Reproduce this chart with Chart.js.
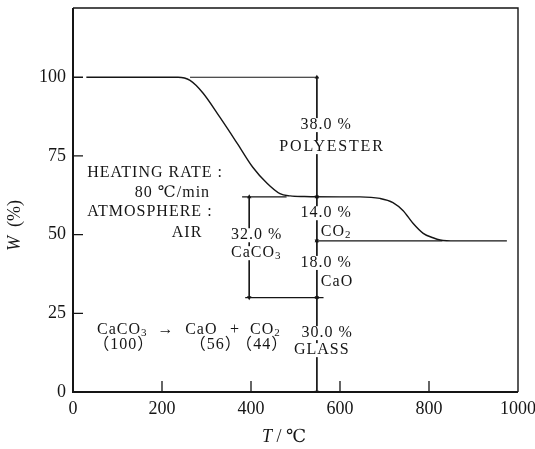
<!DOCTYPE html>
<html>
<head>
<meta charset="utf-8">
<script src="https://cdn.jsdelivr.net/npm/chart.js@4.4.1/dist/chart.umd.min.js"></script>
<style>
  html, body { margin: 0; padding: 0; background: #fff; }
  #wrap { width: 535px; height: 449px; }
</style>
</head>
<body>
<div id="wrap"><canvas id="tga"></canvas></div>
<script>
// TG curve of a glass-filled polyester containing CaCO3 (heating in air)
const tempC     = [30, 236, 263, 292, 330, 369, 404, 436, 465, 488, 520, 600, 645, 690, 719, 742, 764, 787, 809, 825, 860, 975];
const weightPct = [100, 100, 99, 95, 87.3, 79, 71.4, 66.3, 63.0, 62.3, 62.1, 62, 62, 61.5, 60.2, 57.6, 53.6, 50.4, 49.0, 48.3, 48, 48];

const xTicks = [0, 200, 400, 600, 800, 1000];
const yTicks = [0, 25, 50, 75, 100];

// weight steps (%)
const polyesterLoss = 38.0;
const co2Loss = 14.0;
const caoLeft = 18.0;
const glassLeft = 30.0;
const reactionMass = [100, 56, 44];

const afterPolyester = 100 - polyesterLoss;      // 62
const afterCO2 = afterPolyester - co2Loss;       // 48
const glassLevel = afterCO2 - caoLeft;           // 30
const caco3Share = afterPolyester - glassLevel;  // 32

// where the step markers sit on the temperature axis
const stepX = 548;
const caco3X = 396;
const guideSpans = [
  { y: 100, from: 263, to: 552 },
  { y: afterPolyester, from: 380, to: 480 },
  { y: glassLevel, from: 387, to: 563 },
  { y: afterCO2, from: 552, to: 830 }
];
const arrows = [
  { x: stepX, top: 100, bottom: afterPolyester },
  { x: stepX, top: afterPolyester, bottom: afterCO2 },
  { x: stepX, top: afterCO2, bottom: glassLevel },
  { x: stepX, top: glassLevel, bottom: glassLevel - glassLeft },
  { x: caco3X, top: afterPolyester, bottom: glassLevel }
];

const pct = v => v.toFixed(1) + ' %';
const notes = [
  { text: 'HEATING RATE :', x: 32, y: 69.5, align: 'left' },
  { text: '80 ℃/min', x: 139, y: 63.2, align: 'left' },
  { text: 'ATMOSPHERE :', x: 32, y: 57.1, align: 'left' },
  { text: 'AIR', x: 222, y: 50.5, align: 'left' },
  { text: pct(polyesterLoss), x: 569, y: 84.8, align: 'center', knock: true },
  { text: 'POLYESTER', x: 582, y: 77.8, align: 'center', knock: true, spacing: 1.8 },
  { text: pct(co2Loss), x: 569, y: 56.8, align: 'center', knock: true },
  { text: 'CO_2', x: 557, y: 50.8, align: 'left' },
  { text: pct(caco3Share), x: 413, y: 49.8, align: 'center', knock: true },
  { text: 'CaCO_3', x: 412, y: 44.1, align: 'center', knock: true },
  { text: pct(caoLeft), x: 569, y: 41.0, align: 'center', knock: true },
  { text: 'CaO', x: 557, y: 34.9, align: 'left' },
  { text: pct(glassLeft), x: 571, y: 18.7, align: 'center', knock: true },
  { text: 'GLASS', x: 559, y: 13.3, align: 'center', knock: true },
  { text: 'CaCO_3', x: 54, y: 19.7, align: 'left' },
  { text: '→', x: 209, y: 19.9, align: 'center' },
  { text: 'CaO', x: 252, y: 19.7, align: 'left' },
  { text: '+', x: 364, y: 19.7, align: 'center' },
  { text: 'CO_2', x: 398, y: 19.7, align: 'left' },
  { text: '（' + reactionMass[0] + '）', x: 114, y: 15.0, align: 'center' },
  { text: '（' + reactionMass[1] + '）', x: 321, y: 15.0, align: 'center' },
  { text: '（' + reactionMass[2] + '）', x: 425, y: 15.0, align: 'center' }
];

const INK = '#151515';
const SERIF = "'Liberation Serif', 'DejaVu Serif', 'Noto Sans CJK JP', serif";

const datasets = [{
  data: tempC.map((t, i) => ({ x: t, y: weightPct[i] })),
  borderColor: INK,
  borderWidth: 1.4,
  pointRadius: 0,
  cubicInterpolationMode: 'monotone'
}];

guideSpans.forEach(g => {
  datasets.push({
    data: [{ x: g.from, y: g.y }, { x: g.to, y: g.y }],
    borderColor: INK,
    borderWidth: 1.2,
    pointRadius: 0
  });
});

arrows.forEach(a => {
  datasets.push({
    data: [{ x: a.x, y: a.top }, { x: a.x, y: a.bottom }],
    borderColor: INK,
    borderWidth: 1,
    pointStyle: 'triangle',
    pointRadius: 2.6,
    pointRotation: [0, 180],
    pointBackgroundColor: INK,
    pointBorderColor: INK,
    pointBorderWidth: 0
  });
});

// draws a string where "_n" becomes a subscript digit
function richText(ctx, str, px, py, align, knock, spacing) {
  const parts = str.split(/(_\d)/).filter(s => s.length);
  const main = '16px ' + SERIF;
  const sub = '11px ' + SERIF;
  ctx.letterSpacing = (spacing || 1) + 'px';
  let width = 0;
  parts.forEach(p => {
    ctx.font = p[0] === '_' ? sub : main;
    width += ctx.measureText(p[0] === '_' ? p.slice(1) : p).width;
  });
  let x = px;
  if (align === 'center') x = px - width / 2;
  if (align === 'right') x = px - width;
  if (knock) {
    ctx.fillStyle = '#fff';
    ctx.fillRect(x - 2, py - 7, width + 2, 14);
  }
  ctx.fillStyle = INK;
  ctx.textAlign = 'left';
  ctx.textBaseline = 'middle';
  parts.forEach(p => {
    if (p[0] === '_') {
      ctx.font = sub;
      ctx.fillText(p.slice(1), x, py + 3);
      x += ctx.measureText(p.slice(1)).width;
    } else {
      ctx.font = main;
      ctx.fillText(p, x, py);
      x += ctx.measureText(p).width;
    }
  });
  ctx.letterSpacing = '0px';
}

const paperFrame = {
  id: 'paperFrame',
  afterDatasetsDraw(chart) {
    const { ctx, chartArea: a, scales: { x, y } } = chart;
    ctx.save();
    ctx.strokeStyle = INK;

    // frame: heavier on the two axes
    ctx.lineWidth = 1.4;
    ctx.beginPath();
    ctx.moveTo(a.left, a.top);
    ctx.lineTo(a.right, a.top);
    ctx.lineTo(a.right, a.bottom);
    ctx.stroke();
    ctx.lineWidth = 2;
    ctx.beginPath();
    ctx.moveTo(a.left, a.top);
    ctx.lineTo(a.left, a.bottom);
    ctx.lineTo(a.right, a.bottom);
    ctx.stroke();

    // inward tick marks
    ctx.lineWidth = 1.3;
    ctx.beginPath();
    yTicks.forEach(v => {
      const py = y.getPixelForValue(v);
      ctx.moveTo(a.left, py);
      ctx.lineTo(a.left + 10, py);
    });
    xTicks.slice(1, -1).forEach(v => {
      const px = x.getPixelForValue(v);
      ctx.moveTo(px, a.bottom);
      ctx.lineTo(px, a.bottom - 11);
    });
    ctx.stroke();

    notes.forEach(n => {
      richText(ctx, n.text, x.getPixelForValue(n.x), y.getPixelForValue(n.y), n.align, n.knock, n.spacing);
    });

    // axis titles
    ctx.fillStyle = INK;
    ctx.textBaseline = 'middle';
    ctx.textAlign = 'left';
    ctx.font = 'italic 18px ' + SERIF;
    ctx.fillText('T', 262, 437);
    let tw = ctx.measureText('T').width;
    ctx.font = '18px ' + SERIF;
    ctx.fillText(' / ℃', 262 + tw, 437);

    ctx.translate(15, 251);
    ctx.rotate(-Math.PI / 2);
    ctx.font = 'italic 18px ' + SERIF;
    ctx.fillText('W', 0, 0);
    tw = ctx.measureText('W').width;
    ctx.font = '18px ' + SERIF;
    ctx.fillText('  (%)', tw, 0);
    ctx.restore();
  }
};

new Chart(document.getElementById('tga'), {
  type: 'line',
  data: { datasets },
  options: {
    responsive: true,
    maintainAspectRatio: false,
    animation: false,
    layout: { padding: { top: 8, right: 17, left: 0, bottom: 0 } },
    plugins: { legend: { display: false }, tooltip: { enabled: false } },
    scales: {
      x: {
        type: 'linear',
        min: 0,
        max: 1000,
        afterBuildTicks: s => { s.ticks = xTicks.map(v => ({ value: v })); },
        afterFit: s => { s.height = 57; s.paddingLeft = 0; s.paddingRight = 0; },
        grid: { display: false, drawTicks: false },
        border: { display: false },
        ticks: { color: INK, padding: 6, font: { family: SERIF, size: 18 }, callback: v => String(v) }
      },
      y: {
        min: 0,
        max: 122,
        afterBuildTicks: s => { s.ticks = yTicks.map(v => ({ value: v })); },
        afterFit: s => { s.width = 73; s.paddingTop = 0; s.paddingBottom = 0; },
        grid: { display: false, drawTicks: false },
        border: { display: false },
        ticks: { color: INK, padding: 7, font: { family: SERIF, size: 18 } }
      }
    }
  },
  plugins: [paperFrame]
});
</script>
</body>
</html>
